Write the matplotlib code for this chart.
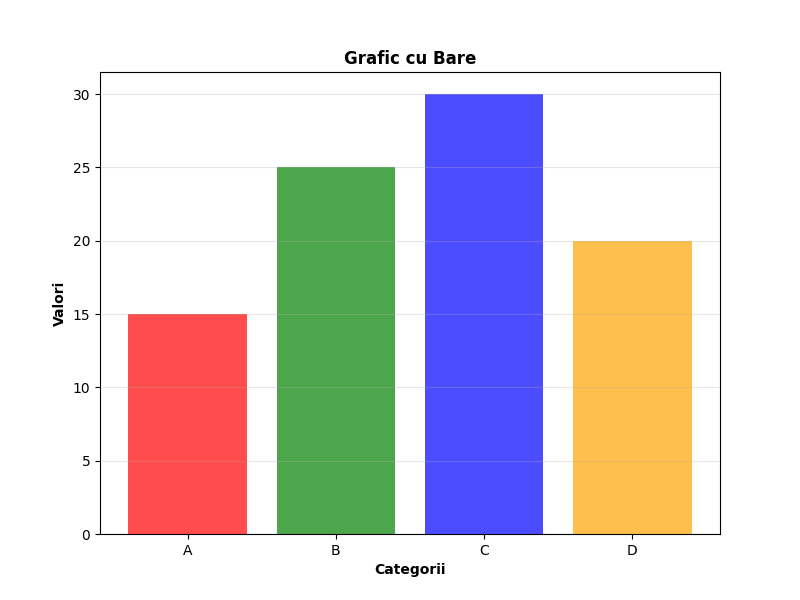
import matplotlib
matplotlib.use("Agg")
import matplotlib.pyplot as plt

categories = ["A", "B", "C", "D"]
values = [15, 25, 30, 20]
colors = ["red", "green", "blue", "orange"]

fig, ax = plt.subplots(figsize=(8, 6), dpi=100)
ax.bar(categories, values, color=colors, alpha=0.7)
ax.set_title("Grafic cu Bare", fontweight="bold")
ax.set_xlabel("Categorii", fontweight="bold")
ax.set_ylabel("Valori", fontweight="bold")
ax.grid(axis="y", alpha=0.3)

plt.savefig("out.png")
